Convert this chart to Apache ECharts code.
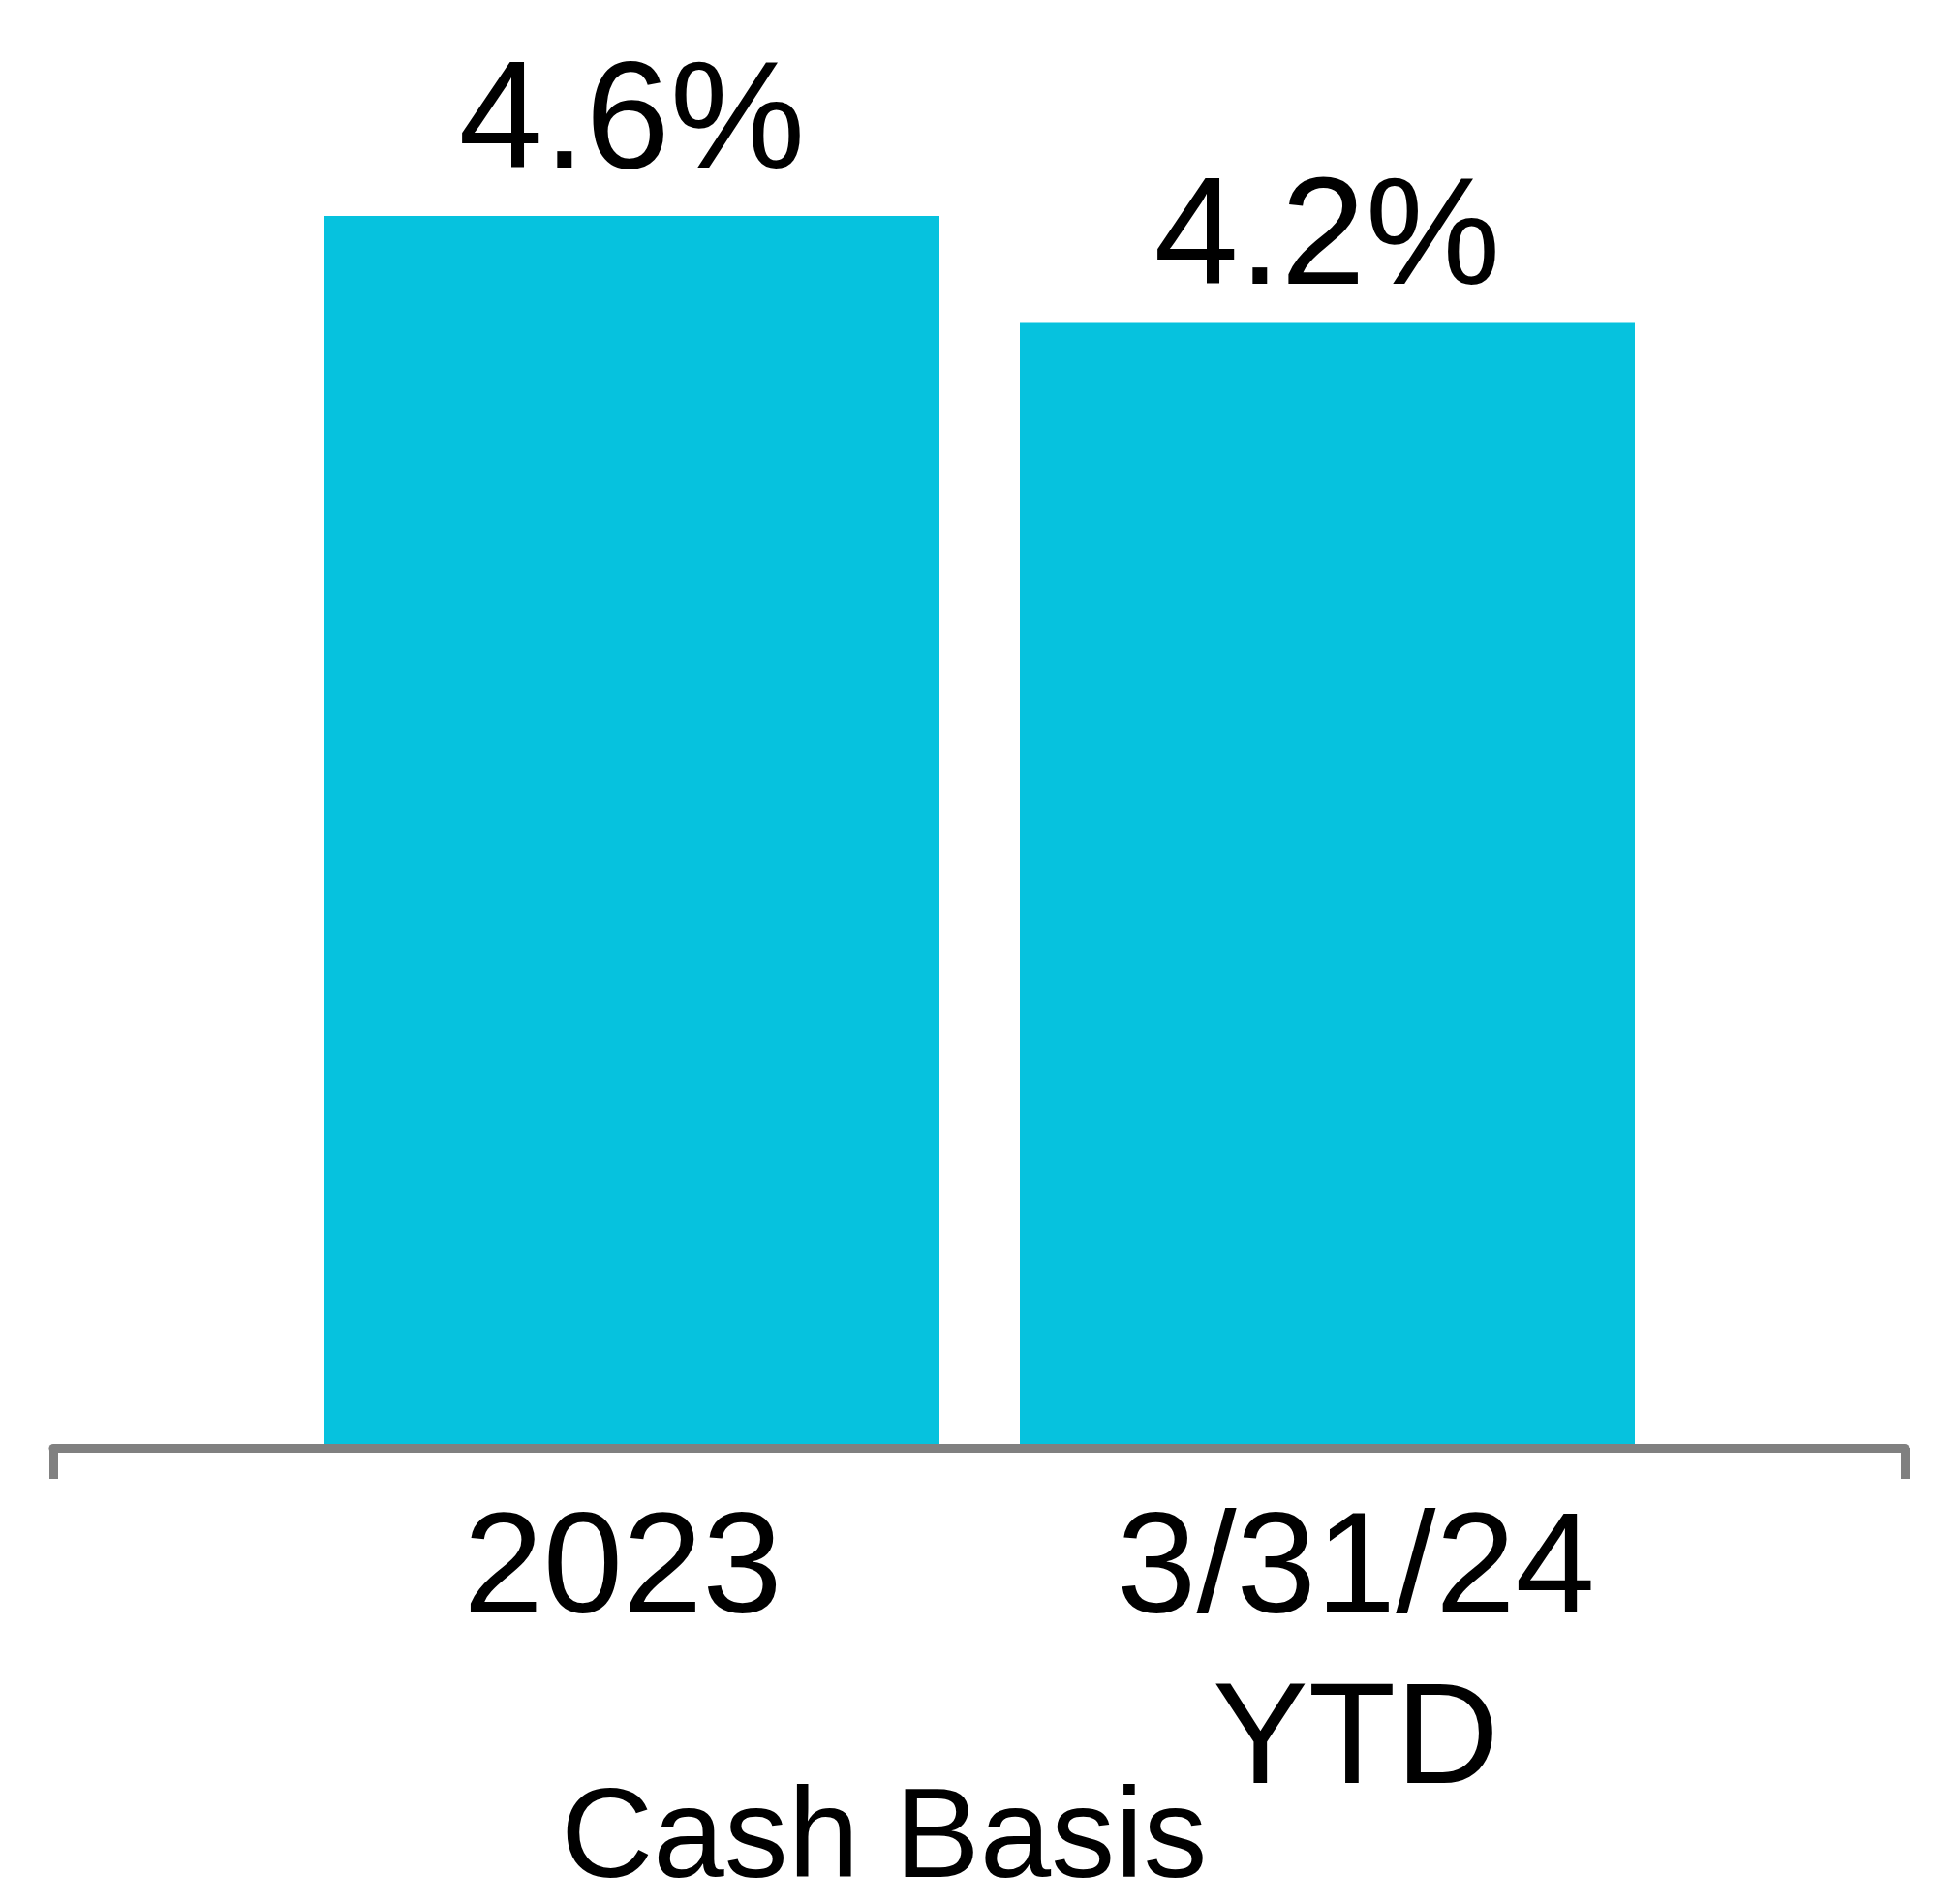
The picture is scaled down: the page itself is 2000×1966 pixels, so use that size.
<!DOCTYPE html>
<html>
<head>
<meta charset="utf-8">
<script src="https://cdn.jsdelivr.net/npm/echarts@6/dist/echarts.min.js"></script>
<style>
  html, body { margin: 0; padding: 0; background: #ffffff; }
  #chart { width: 2000px; height: 1966px; }
</style>
</head>
<body>
<div id="chart"></div>
<script>
// ---- data ----
const categories = ['2023', '3/31/24\nYTD'];
const values = [4.6, 4.2];
const valueLabels = ['4.6%', '4.2%'];
const axisTitle = 'Cash Basis';

// ---- styling ----
const FONT = "'Liberation Sans', Arial, Helvetica, sans-serif";
const BAR_COLOR = '#06C2DE';
const AXIS_COLOR = '#808080';
const labelGaps = [15, 5];

const chart = echarts.init(document.getElementById('chart'), null, { renderer: 'canvas' });

const barData = values.map(function (v, i) {
  return {
    value: v,
    label: { distance: labelGaps[i] }
  };
});

const option = {
  backgroundColor: '#ffffff',
  animation: false,
  title: {
    text: axisTitle,
    left: 579,
    top: 1836,
    padding: 0,
    textStyle: { fontFamily: FONT, fontSize: 132, fontWeight: 'normal', color: '#000000', lineHeight: 132 }
  },
  grid: [
    // bars
    { left: 293.5, right: 270.5, top: 112.4, bottom: 471, containLabel: false },
    // visible axis line with end ticks
    { left: 55, right: 33, top: 112.4, bottom: 471, containLabel: false },
    // category labels
    { left: 264.5, right: 221.5, top: 112.4, bottom: 471, containLabel: false }
  ],
  xAxis: [
    {
      gridIndex: 0, type: 'category', data: categories,
      axisLine: { show: false }, axisTick: { show: false }, axisLabel: { show: false }, splitLine: { show: false }
    },
    {
      gridIndex: 1, type: 'category', data: categories, boundaryGap: true,
      axisLine: { show: true, lineStyle: { color: AXIS_COLOR, width: 9 } },
      axisTick: {
        show: true, inside: false, length: 32,
        interval: function (index) { return index === 0; },
        lineStyle: { color: AXIS_COLOR, width: 9 }
      },
      axisLabel: { show: false }, splitLine: { show: false }, z: 10
    },
    {
      gridIndex: 2, type: 'category', data: categories,
      axisLine: { show: false }, axisTick: { show: false }, splitLine: { show: false },
      axisLabel: {
        show: true, interval: 0, margin: 41,
        fontFamily: FONT, fontSize: 148, lineHeight: 176, color: '#000000', align: 'center'
      }
    }
  ],
  yAxis: [
    { gridIndex: 0, type: 'value', min: 0, max: 5, show: false },
    { gridIndex: 1, type: 'value', min: 0, max: 5, show: false },
    { gridIndex: 2, type: 'value', min: 0, max: 5, show: false }
  ],
  series: [
    {
      type: 'bar',
      xAxisIndex: 0, yAxisIndex: 0,
      data: barData,
      barWidth: 635,
      itemStyle: { color: BAR_COLOR },
      label: {
        show: true, position: 'top',
        formatter: function (p) { return valueLabels[p.dataIndex]; },
        fontFamily: FONT, fontSize: 157, lineHeight: 157, color: '#000000'
      }
    }
  ]
};

chart.setOption(option);
</script>
</body>
</html>
